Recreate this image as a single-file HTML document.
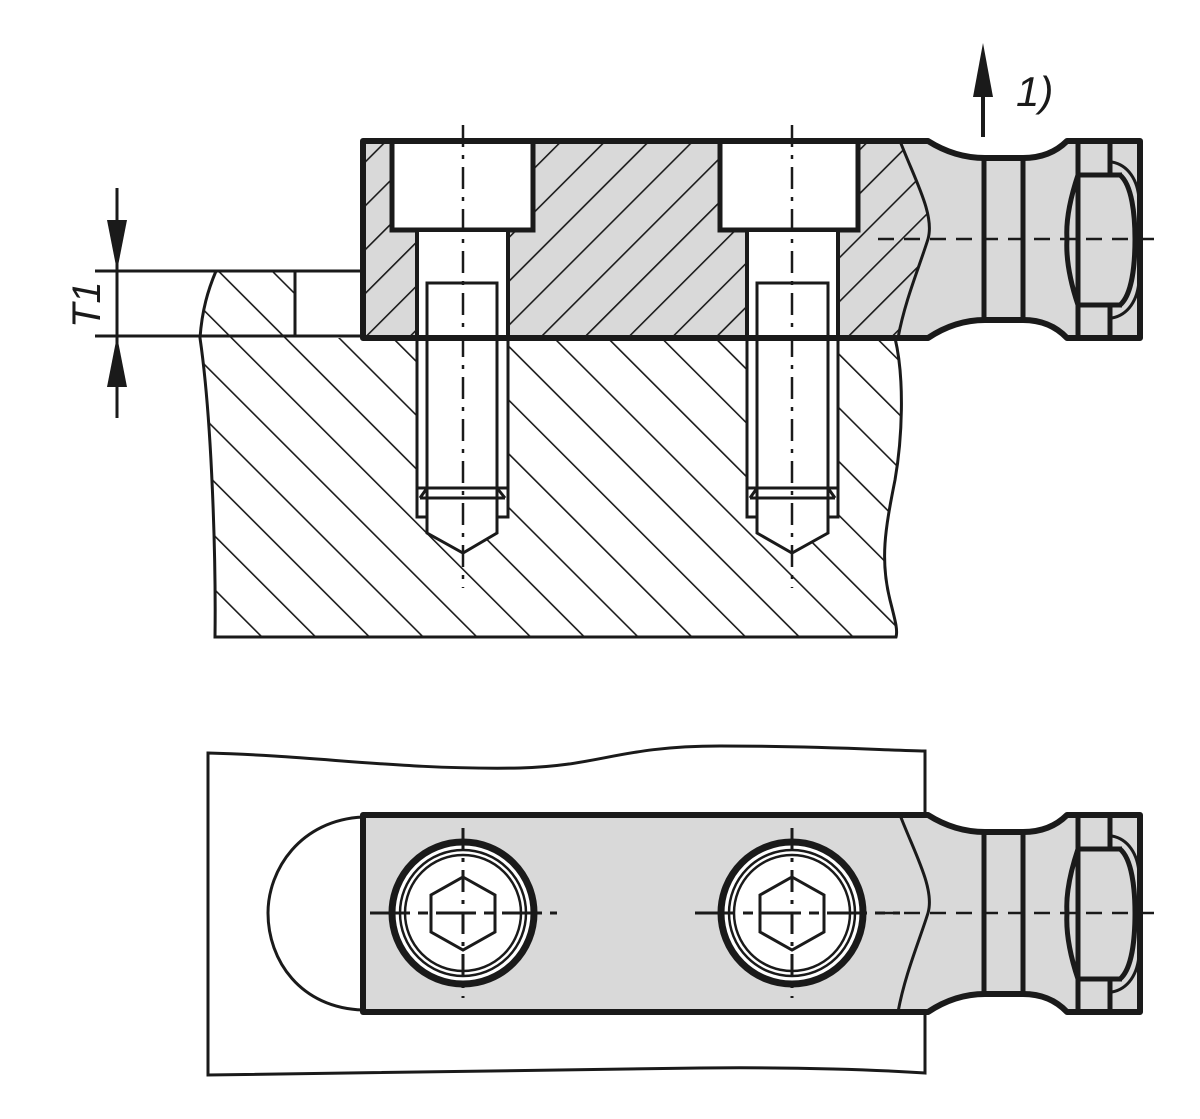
<!DOCTYPE html>
<html><head><meta charset="utf-8"><style>
html,body{margin:0;padding:0;background:#fff;}
svg{display:block;}
text{font-family:"Liberation Sans",sans-serif;font-style:italic;fill:#1a1a1a;}
</style></head><body>
<svg width="1200" height="1119" viewBox="0 0 1200 1119" xmlns="http://www.w3.org/2000/svg">
<defs>
<pattern id="hb" patternUnits="userSpaceOnUse" width="38" height="38" patternTransform="rotate(-45)">
<line x1="0" y1="0" x2="0" y2="38" stroke="#1a1a1a" stroke-width="3.2"/>
</pattern>
<pattern id="hp" patternUnits="userSpaceOnUse" width="31" height="31" patternTransform="rotate(45)">
<line x1="0" y1="0" x2="0" y2="31" stroke="#1a1a1a" stroke-width="3.2"/>
</pattern>
<clipPath id="cbase"><path d="M216,271 H295 V338 H895 C905,380 902,440 895,480 C885,530 880,560 890,600 C895,620 898,630 896,637 H215 C216,560 212,420 200,338 C202,310 208,290 216,271 Z"/></clipPath>
<clipPath id="cplate"><path d="M363,141 H900 C915,180 935,215 928,239 C920,265 905,300 898,338 H363 Z"/></clipPath>
<g id="eye">
<path d="M900,141 C915,180 935,215 928,239 C920,265 905,300 898,338" fill="none" stroke="#1a1a1a" stroke-width="3"/>
<line x1="984" y1="158" x2="984" y2="320" stroke="#1a1a1a" stroke-width="5"/>
<line x1="1023" y1="158" x2="1023" y2="320" stroke="#1a1a1a" stroke-width="5"/>
<line x1="1078" y1="141" x2="1078" y2="338" stroke="#1a1a1a" stroke-width="5"/>
<line x1="1110" y1="141" x2="1110" y2="175" stroke="#1a1a1a" stroke-width="5"/>
<line x1="1110" y1="305" x2="1110" y2="338" stroke="#1a1a1a" stroke-width="5"/>
<line x1="1078" y1="175" x2="1122" y2="175" stroke="#1a1a1a" stroke-width="5"/>
<line x1="1078" y1="305" x2="1122" y2="305" stroke="#1a1a1a" stroke-width="5"/>
<path d="M1078,175 C1068,205 1066,225 1067,239 C1066,255 1068,275 1078,305" fill="none" stroke="#1a1a1a" stroke-width="5"/>
<path d="M1120,175 C1132,185 1135,215 1135,239 C1135,265 1132,295 1120,305" fill="none" stroke="#1a1a1a" stroke-width="5"/>
<path d="M1112,162 C1128,165 1138,180 1139,200 M1112,318 C1128,315 1138,300 1139,280" fill="none" stroke="#1a1a1a" stroke-width="3"/>
<line x1="878" y1="239" x2="1158" y2="239" stroke="#1a1a1a" stroke-width="2.5" stroke-dasharray="16,10"/>
</g>
</defs>

<!-- ===== TOP VIEW ===== -->
<g clip-path="url(#cbase)"><rect x="190" y="260" width="720" height="390" fill="url(#hb)"/></g>
<rect x="296" y="272" width="66" height="64" fill="#fff"/>
<path d="M216,271 C208,290 202,310 200,338 C212,420 216,560 215,637 H896 C898,630 895,620 890,600 C880,560 885,530 895,480 C902,440 905,380 895,338" fill="none" stroke="#1a1a1a" stroke-width="3"/>
<line x1="295" y1="271" x2="295" y2="337" stroke="#1a1a1a" stroke-width="3"/>
<path d="M363,141 H928 Q955,158 985,158 H1023 Q1050,158 1067,141 H1140 V338 H1067 Q1050,320 1023,320 H985 Q955,320 928,338 H363 Z" fill="#d9d9d9"/>
<g clip-path="url(#cplate)"><rect x="360" y="138" width="580" height="205" fill="url(#hp)"/></g>
<g fill="#fff" stroke="#1a1a1a">
<rect x="392" y="141" width="141" height="89" stroke-width="5"/>
<rect x="417" y="230" width="91" height="108" stroke-width="4"/>
<rect x="720" y="141" width="138" height="89" stroke-width="5"/>
<rect x="747" y="230" width="91" height="108" stroke-width="4"/>
<path d="M417,338 V517 H508 V338 Z" stroke-width="3"/>
<path d="M747,338 V517 H838 V338 Z" stroke-width="3"/>
<path d="M427,283 H497 V533 L463,553 L427,533 Z" stroke-width="3"/>
<path d="M757,283 H828 V533 L792,553 L757,533 Z" stroke-width="3"/>
</g>
<g stroke="#1a1a1a" stroke-width="3" fill="none">
<path d="M417,488 H508 M420,498 L427,488 M497,488 L505,498 M420,498 H505"/>
<path d="M747,488 H838 M750,498 L757,488 M828,488 L835,498 M750,498 H835"/>
</g>
<path d="M363,141 H928 Q955,158 985,158 H1023 Q1050,158 1067,141 H1140 V338 H1067 Q1050,320 1023,320 H985 Q955,320 928,338 H363 Z" fill="none" stroke="#1a1a1a" stroke-width="6" stroke-linejoin="round"/>
<use href="#eye"/>
<g stroke="#1a1a1a" stroke-width="2.5" stroke-dasharray="22,8,4,8">
<line x1="463" y1="125" x2="463" y2="588"/>
<line x1="792" y1="125" x2="792" y2="588"/>
</g>
<g stroke="#1a1a1a" stroke-width="3">
<line x1="95" y1="271" x2="363" y2="271"/>
<line x1="95" y1="336" x2="363" y2="336"/>
<line x1="117" y1="188" x2="117" y2="418"/>
</g>
<polygon points="117,271 107,220 127,220" fill="#1a1a1a"/>
<polygon points="117,336 107,387 127,387" fill="#1a1a1a"/>
<text x="0" y="0" font-size="40" transform="translate(100,328) rotate(-90)">T1</text>
<line x1="983" y1="137" x2="983" y2="90" stroke="#1a1a1a" stroke-width="4"/>
<polygon points="983,43 973,97 993,97" fill="#1a1a1a"/>
<text x="1016" y="106" font-size="42">1)</text>

<!-- ===== BOTTOM VIEW ===== -->
<path d="M925,812 V751 C880,750 820,746 720,746 C620,746 600,766 520,768 C400,770 320,756 208,753 V1075 C300,1073 500,1070 700,1068 C800,1067 880,1070 925,1073 V1012" fill="none" stroke="#1a1a1a" stroke-width="3"/>
<path d="M363,817 C300,820 268,870 268,913 C268,960 300,1008 363,1010" fill="#fff" stroke="#1a1a1a" stroke-width="3"/>
<g transform="translate(0,674)">
<path d="M363,141 H928 Q955,158 985,158 H1023 Q1050,158 1067,141 H1140 V338 H1067 Q1050,320 1023,320 H985 Q955,320 928,338 H363 Z" fill="#d9d9d9" stroke="#1a1a1a" stroke-width="6" stroke-linejoin="round"/>
<use href="#eye"/>
</g>
<g stroke="#1a1a1a" fill="#fff">
<circle cx="463" cy="913" r="71" stroke-width="7"/>
<circle cx="463" cy="913" r="63" stroke-width="2.5"/>
<circle cx="463" cy="913" r="58" stroke-width="2.5"/>
<circle cx="792" cy="913" r="71" stroke-width="7"/>
<circle cx="792" cy="913" r="63" stroke-width="2.5"/>
<circle cx="792" cy="913" r="58" stroke-width="2.5"/>
<polygon points="463,877 495,895 495,932 463,950 431,932 431,895" fill="none" stroke-width="3"/>
<polygon points="792,877 824,895 824,932 792,950 760,932 760,895" fill="none" stroke-width="3"/>
</g>
<g stroke="#1a1a1a" stroke-width="3">
<line x1="463" y1="828" x2="463" y2="998" stroke-dasharray="22,8,4,8"/>
<line x1="792" y1="828" x2="792" y2="998" stroke-dasharray="22,8,4,8"/>
<line x1="370" y1="913" x2="557" y2="913" stroke-dasharray="40,8,10,8"/>
<line x1="695" y1="913" x2="900" y2="913" stroke-dasharray="40,8,10,8"/>
</g>
</svg>
</body></html>
